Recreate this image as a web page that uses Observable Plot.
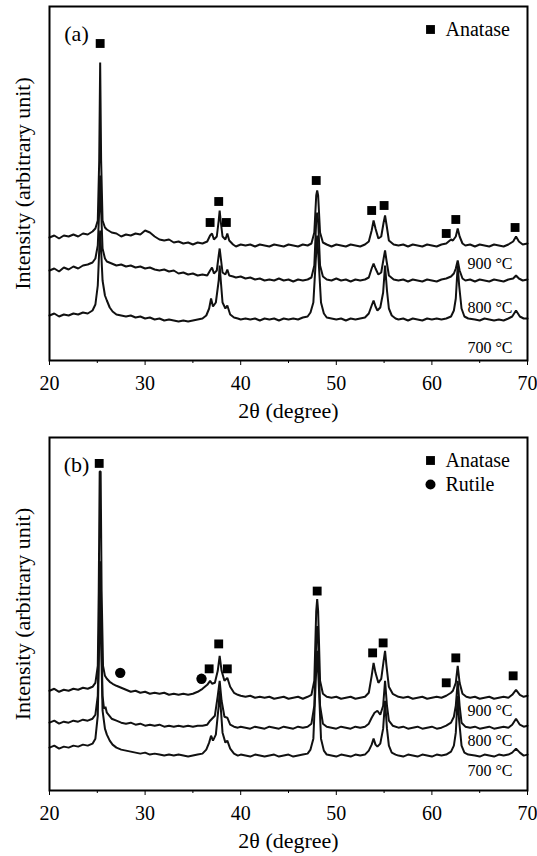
<!DOCTYPE html>
<html>
<head>
<meta charset="utf-8">
<script src="https://cdn.jsdelivr.net/npm/d3@7"></script>
<script src="https://cdn.jsdelivr.net/npm/@observablehq/plot@0.6"></script>
<style>
  html, body { margin: 0; padding: 0; background: #fff; }
  #chart { width: 537px; }
  #chart svg { display: block; }
  #chart svg, #chart svg text { font-family: "Liberation Serif", "Times New Roman", serif; }
</style>
</head>
<body>
<div id="chart"></div>
<script>
// ---- tick labels / text ----
const majorTicks = [20, 30, 40, 50, 60, 70];
const minorTicks = [25, 35, 45, 55, 65];
const xLabel = "2θ (degree)";
const yLabel = "Intensity (arbitrary unit)";
const tempLabels = ["900 °C", "800 °C", "700 °C"];

// ---- panel (a): XRD traces [2θ, intensity] ----
const a900 = [[20,123],[20.5,125],[21,122],[21.5,125],[22,124],[22.5,126],[23,124],[23.5,127],[24,126],[24.5,129],[24.8,132],[25.05,140],[25.2,200],[25.3,298],[25.4,200],[25.55,140],[25.8,133],[26,131],[26.5,128],[27,127],[27.5,124],[28,126],[28.5,125],[29,127],[29.5,126],[30,130],[30.5,128],[31,124],[31.5,121],[32,120],[32.5,121],[33,118],[33.5,119],[34,117],[34.5,118],[35,116],[35.5,118],[36,117],[36.5,119],[36.8,125],[37,127],[37.2,121],[37.5,124],[37.7,140],[37.8,150],[37.9,140],[38.1,124],[38.4,121],[38.6,127],[38.8,120],[39.2,116],[39.5,114],[40,116],[40.5,115],[41,116],[41.5,114],[42,116],[42.5,115],[43,114],[43.5,116],[44,115],[44.5,114],[45,116],[45.5,115],[46,114],[46.5,116],[47,115],[47.4,117],[47.7,128],[47.9,165],[48.0,170],[48.1,165],[48.3,128],[48.6,118],[49,116],[49.5,114],[50,116],[50.5,115],[51,114],[51.5,116],[52,115],[52.5,114],[53,116],[53.4,119],[53.7,130],[53.9,140],[54.1,132],[54.4,122],[54.7,124],[54.95,138],[55.1,145],[55.25,136],[55.5,120],[56,116],[56.5,115],[57,116],[57.5,114],[58,116],[58.5,115],[59,114],[59.5,116],[60,115],[60.5,114],[61,116],[61.5,117],[62,121],[62.2,120],[62.5,124],[62.7,132],[62.9,124],[63.2,117],[63.5,115],[64,116],[64.5,114],[65,116],[65.5,115],[66,114],[66.5,116],[67,115],[67.5,114],[68,116],[68.5,119],[68.8,124],[69.1,119],[69.5,116],[70,117]];
const a800 = [[20,90],[20.5,92],[21,89],[21.5,93],[22,91],[22.5,94],[23,92],[23.5,95],[24,96],[24.5,98],[24.8,102],[25.05,115],[25.2,150],[25.3,185],[25.4,150],[25.55,112],[25.8,102],[26,99],[26.5,97],[27,95],[27.5,96],[28,94],[28.5,95],[29,93],[29.5,94],[30,92],[30.5,93],[31,91],[31.5,90],[32,91],[32.5,89],[33,90],[33.5,87],[34,88],[34.5,86],[35,87],[35.5,85],[36,86],[36.5,85],[36.8,90],[37,93],[37.2,87],[37.5,90],[37.7,105],[37.8,112],[37.9,104],[38.1,88],[38.4,86],[38.6,91],[38.8,85],[39.2,84],[39.5,83],[40,84],[40.5,82],[41,83],[41.5,81],[42,82],[42.5,80],[43,81],[43.5,80],[44,82],[44.5,80],[45,81],[45.5,79],[46,81],[46.5,80],[47,81],[47.4,83],[47.7,95],[47.9,140],[48,148],[48.1,140],[48.3,95],[48.6,84],[49,81],[49.5,80],[50,82],[50.5,80],[51,81],[51.5,79],[52,81],[52.5,80],[53,81],[53.4,83],[53.7,92],[53.9,97],[54.1,92],[54.4,86],[54.7,88],[54.95,102],[55.1,110],[55.25,100],[55.5,85],[56,81],[56.5,80],[57,81],[57.5,79],[58,81],[58.5,80],[59,79],[59.5,81],[60,80],[60.5,79],[61,81],[61.5,82],[62,84],[62.3,87],[62.5,92],[62.7,100],[62.9,90],[63.2,82],[63.5,80],[64,81],[64.5,79],[65,81],[65.5,80],[66,79],[66.5,81],[67,80],[67.5,79],[68,81],[68.5,82],[68.8,85],[69.1,82],[69.5,80],[70,81]];
const a700 = [[20,45],[20.5,47],[21,44],[21.5,46],[22,45],[22.5,47],[23,46],[23.5,48],[24,47],[24.5,50],[24.8,56],[25.05,75],[25.2,110],[25.3,130],[25.4,110],[25.55,80],[25.8,65],[26,60],[26.3,53],[26.6,49],[27,46],[27.5,45],[28,44],[28.5,45],[29,43],[29.5,44],[30,42],[30.5,43],[31,41],[31.5,42],[32,40],[32.5,41],[33,40],[33.5,39],[34,40],[34.5,39],[35,40],[35.5,41],[36,42],[36.4,45],[36.7,52],[36.9,62],[37.1,54],[37.4,58],[37.7,80],[37.8,95],[37.9,82],[38.1,58],[38.4,52],[38.6,55],[38.9,46],[39.3,43],[39.7,42],[40,41],[40.5,42],[41,41],[41.5,42],[42,40],[42.5,42],[43,41],[43.5,42],[44,40],[44.5,42],[45,41],[45.5,42],[46,41],[46.5,43],[47,44],[47.3,48],[47.6,58],[47.85,100],[48,125],[48.15,100],[48.4,58],[48.7,47],[49,43],[49.5,42],[50,41],[50.5,42],[51,40],[51.5,42],[52,41],[52.5,42],[53,43],[53.4,47],[53.7,55],[53.9,60],[54.1,54],[54.3,50],[54.6,53],[54.9,68],[55.1,95],[55.3,70],[55.5,52],[55.8,45],[56.2,42],[56.5,41],[57,42],[57.5,40],[58,42],[58.5,41],[59,40],[59.5,42],[60,41],[60.5,42],[61,41],[61.5,42],[62,44],[62.3,50],[62.5,62],[62.7,95],[62.85,75],[63.1,52],[63.4,44],[63.8,42],[64.5,41],[65,40],[65.5,42],[66,41],[66.5,40],[67,41],[67.5,40],[68,42],[68.4,44],[68.8,50],[69.2,44],[69.6,42],[70,42]];
const aAnatase = [[25.3,317],[36.8,138],[37.7,159],[38.5,138],[47.9,180],[53.7,150],[55.0,155],[61.5,127],[62.5,141],[68.7,133]];
const aRutile = [];
const aTempLevels = [97, 53, 13];

// ---- panel (b): XRD traces [2θ, intensity] ----
const b900 = [[20,100],[20.5,102],[21,99],[21.5,101],[22,100],[22.5,102],[23,101],[23.5,103],[24,102],[24.5,104],[24.8,108],[25.05,125],[25.15,200],[25.25,320],[25.35,320],[25.45,200],[25.6,125],[25.8,115],[26,112],[26.3,109],[26.6,107],[27,105],[27.5,103],[28,101],[28.5,99],[29,100],[29.5,98],[30,99],[30.5,97],[31,98],[31.5,97],[32,98],[32.5,96],[33,97],[33.5,96],[34,97],[34.5,96],[35,97],[35.5,99],[36,102],[36.5,106],[36.8,110],[37,107],[37.3,108],[37.6,120],[37.8,135],[38,120],[38.3,110],[38.6,113],[38.9,104],[39.3,98],[39.7,96],[40,95],[40.5,94],[41,95],[41.5,93],[42,94],[42.5,93],[43,94],[43.5,92],[44,93],[44.5,94],[45,92],[45.5,93],[46,94],[46.5,92],[47,94],[47.4,96],[47.7,110],[47.9,180],[48,192],[48.1,180],[48.3,110],[48.6,97],[49,94],[49.5,93],[50,94],[50.5,92],[51,93],[51.5,94],[52,92],[52.5,93],[53,94],[53.4,98],[53.7,115],[53.9,128],[54.1,118],[54.4,108],[54.7,112],[54.95,130],[55.1,140],[55.25,125],[55.5,104],[55.9,97],[56.5,94],[57,93],[57.5,94],[58,92],[58.5,93],[59,94],[59.5,92],[60,93],[60.5,94],[61,93],[61.5,95],[62,98],[62.2,100],[62.5,108],[62.7,125],[62.9,108],[63.2,97],[63.6,94],[64,93],[64.5,94],[65,92],[65.5,93],[66,94],[66.5,92],[67,93],[67.5,94],[68,93],[68.4,96],[68.8,101],[69.2,96],[69.6,94],[70,95]];
const b800 = [[20,68],[20.5,70],[21,67],[21.5,69],[22,68],[22.5,70],[23,69],[23.5,71],[24,70],[24.5,72],[24.8,76],[25.05,95],[25.2,170],[25.3,230],[25.4,170],[25.55,95],[25.7,82],[25.85,84],[26,78],[26.5,72],[27,70],[27.5,68],[28,67],[28.5,68],[29,66],[29.5,67],[30,65],[30.5,66],[31,65],[31.5,66],[32,64],[32.5,65],[33,64],[33.5,65],[34,64],[34.5,65],[35,64],[35.5,65],[36,65],[36.5,66],[36.8,70],[37,72],[37.3,75],[37.6,95],[37.8,110],[38,90],[38.3,74],[38.6,73],[38.9,66],[39.3,64],[39.7,63],[40,64],[40.5,63],[41,62],[41.5,64],[42,63],[42.5,62],[43,64],[43.5,63],[44,62],[44.5,64],[45,63],[45.5,62],[46,64],[46.5,63],[47,64],[47.4,67],[47.7,85],[47.9,150],[48,165],[48.1,150],[48.3,85],[48.6,67],[49,64],[49.5,63],[50,62],[50.5,64],[51,63],[51.5,62],[52,64],[52.5,63],[53,64],[53.4,67],[53.7,73],[54,78],[54.3,80],[54.6,76],[54.9,85],[55.1,110],[55.3,85],[55.5,70],[55.9,65],[56.5,63],[57,64],[57.5,62],[58,63],[58.5,64],[59,62],[59.5,63],[60,64],[60.5,62],[61,63],[61.5,65],[62,68],[62.3,74],[62.5,85],[62.7,110],[62.9,85],[63.1,68],[63.5,64],[64,63],[64.5,64],[65,62],[65.5,63],[66,64],[66.5,62],[67,63],[67.5,64],[68,63],[68.4,66],[68.8,72],[69.2,66],[69.6,64],[70,65]];
const b700 = [[20,43],[20.5,45],[21,42],[21.5,44],[22,43],[22.5,45],[23,44],[23.5,46],[24,45],[24.5,47],[24.8,52],[25.05,75],[25.2,150],[25.3,190],[25.4,150],[25.55,80],[25.8,62],[26,56],[26.3,50],[26.6,46],[27,43],[27.5,41],[28,40],[28.5,39],[29,38],[29.5,37],[30,38],[30.5,36],[31,37],[31.5,36],[32,35],[32.5,36],[33,35],[33.5,36],[34,35],[34.5,34],[35,35],[35.5,36],[36,37],[36.4,41],[36.7,48],[36.9,55],[37.1,50],[37.4,56],[37.7,85],[37.8,100],[37.9,85],[38.1,58],[38.4,48],[38.6,50],[38.9,42],[39.3,37],[39.7,35],[40,36],[40.5,35],[41,34],[41.5,36],[42,35],[42.5,34],[43,35],[43.5,36],[44,34],[44.5,35],[45,36],[45.5,34],[46,35],[46.5,36],[47,37],[47.3,41],[47.6,52],[47.85,110],[48,140],[48.15,110],[48.4,52],[48.7,40],[49,36],[49.5,35],[50,34],[50.5,36],[51,35],[51.5,34],[52,36],[52.5,35],[53,36],[53.4,40],[53.7,46],[53.9,52],[54.1,46],[54.3,44],[54.6,47],[54.9,62],[55.1,90],[55.3,62],[55.5,45],[55.8,38],[56.2,36],[56.5,35],[57,34],[57.5,36],[58,35],[58.5,34],[59,36],[59.5,35],[60,34],[60.5,36],[61,35],[61.5,36],[62,39],[62.3,45],[62.5,58],[62.7,95],[62.85,70],[63.1,45],[63.4,38],[63.8,36],[64.5,35],[65,34],[65.5,36],[66,35],[66.5,34],[67,36],[67.5,35],[68,36],[68.4,38],[68.8,42],[69.2,38],[69.6,35],[70,36]];
const bAnatase = [[25.2,328],[36.7,122],[37.7,147],[38.6,122],[48.0,200],[53.8,138],[54.9,148],[61.5,108],[62.5,133],[68.5,115]];
const bRutile = [[27.4,118],[35.9,112]];
const bTempLevels = [80, 50, 20];

const FONT = "Liberation Serif";

function panel({tag, traces, anatase, rutile, tempLevels, legend, height, marginBottom}) {
  return Plot.plot({
    width: 537,
    height,
    marginTop: 6,
    marginBottom,
    marginLeft: 49,
    marginRight: 10,
    style: {fontFamily: FONT, fontSize: "20px", color: "#000", background: "#fff", overflow: "visible"},
    x: {domain: [20, 70]},
    y: {domain: [0, 354], axis: null},
    marks: [
      ...traces.map(t => Plot.line(t, {x: d => d[0], y: d => d[1], stroke: "#111", strokeWidth: 2, strokeLinejoin: "miter"})),
      Plot.dot(anatase, {x: d => d[0], y: d => d[1], symbol: "square", r: 5, fill: "#000", stroke: "none"}),
      Plot.dot(rutile, {x: d => d[0], y: d => d[1], symbol: "circle", r: 5.2, fill: "#000", stroke: "none"}),
      Plot.frame({stroke: "#000", strokeWidth: 2}),
      Plot.axisX(majorTicks, {tickSize: 5, tickPadding: 10, fontSize: 20, fontFamily: FONT, label: null, stroke: "#000"}),
      Plot.axisX(minorTicks, {tickSize: 3, tickFormat: () => "", label: null, stroke: "#000"}),
      Plot.text([xLabel], {text: d => d, frameAnchor: "bottom", dy: 50, textAnchor: "middle", lineAnchor: "middle", fontSize: 22, fontFamily: FONT, fill: "#000"}),
      Plot.text([yLabel], {text: d => d, frameAnchor: "left", dx: -27, rotate: -90, textAnchor: "middle", lineAnchor: "middle", fontSize: 22, fontFamily: FONT, fill: "#000"}),
      Plot.text([tag], {text: d => d, frameAnchor: "top-left", dx: 27, dy: 27, textAnchor: "middle", lineAnchor: "middle", fontSize: 22, fontFamily: FONT, fill: "#000"}),
      Plot.text(tempLevels.map((v, i) => ({v, label: tempLabels[i]})), {y: "v", text: "label", frameAnchor: "right", dx: -15, textAnchor: "end", lineAnchor: "middle", fontSize: 16, fontFamily: FONT, fill: "#000"}),
      ...legend.map((name, i) => Plot.dot([name], {frameAnchor: "top-right", dx: -97, dy: 23 + i * 24, symbol: name === "Rutile" ? "circle" : "square", r: 5, fill: "#000", stroke: "none"})),
      ...legend.map((name, i) => Plot.text([name], {text: d => d, frameAnchor: "top-right", dx: -82, dy: 23 + i * 24, textAnchor: "start", lineAnchor: "middle", fontSize: 20, fontFamily: FONT, fill: "#000"}))
    ]
  });
}

const root = document.getElementById("chart");
root.append(panel({tag: "(a)", traces: [a900, a800, a700], anatase: aAnatase, rutile: aRutile, tempLevels: aTempLevels, legend: ["Anatase"], height: 431, marginBottom: 71}));
root.append(panel({tag: "(b)", traces: [b900, b800, b700], anatase: bAnatase, rutile: bRutile, tempLevels: bTempLevels, legend: ["Anatase", "Rutile"], height: 425, marginBottom: 66}));
</script>
</body>
</html>
